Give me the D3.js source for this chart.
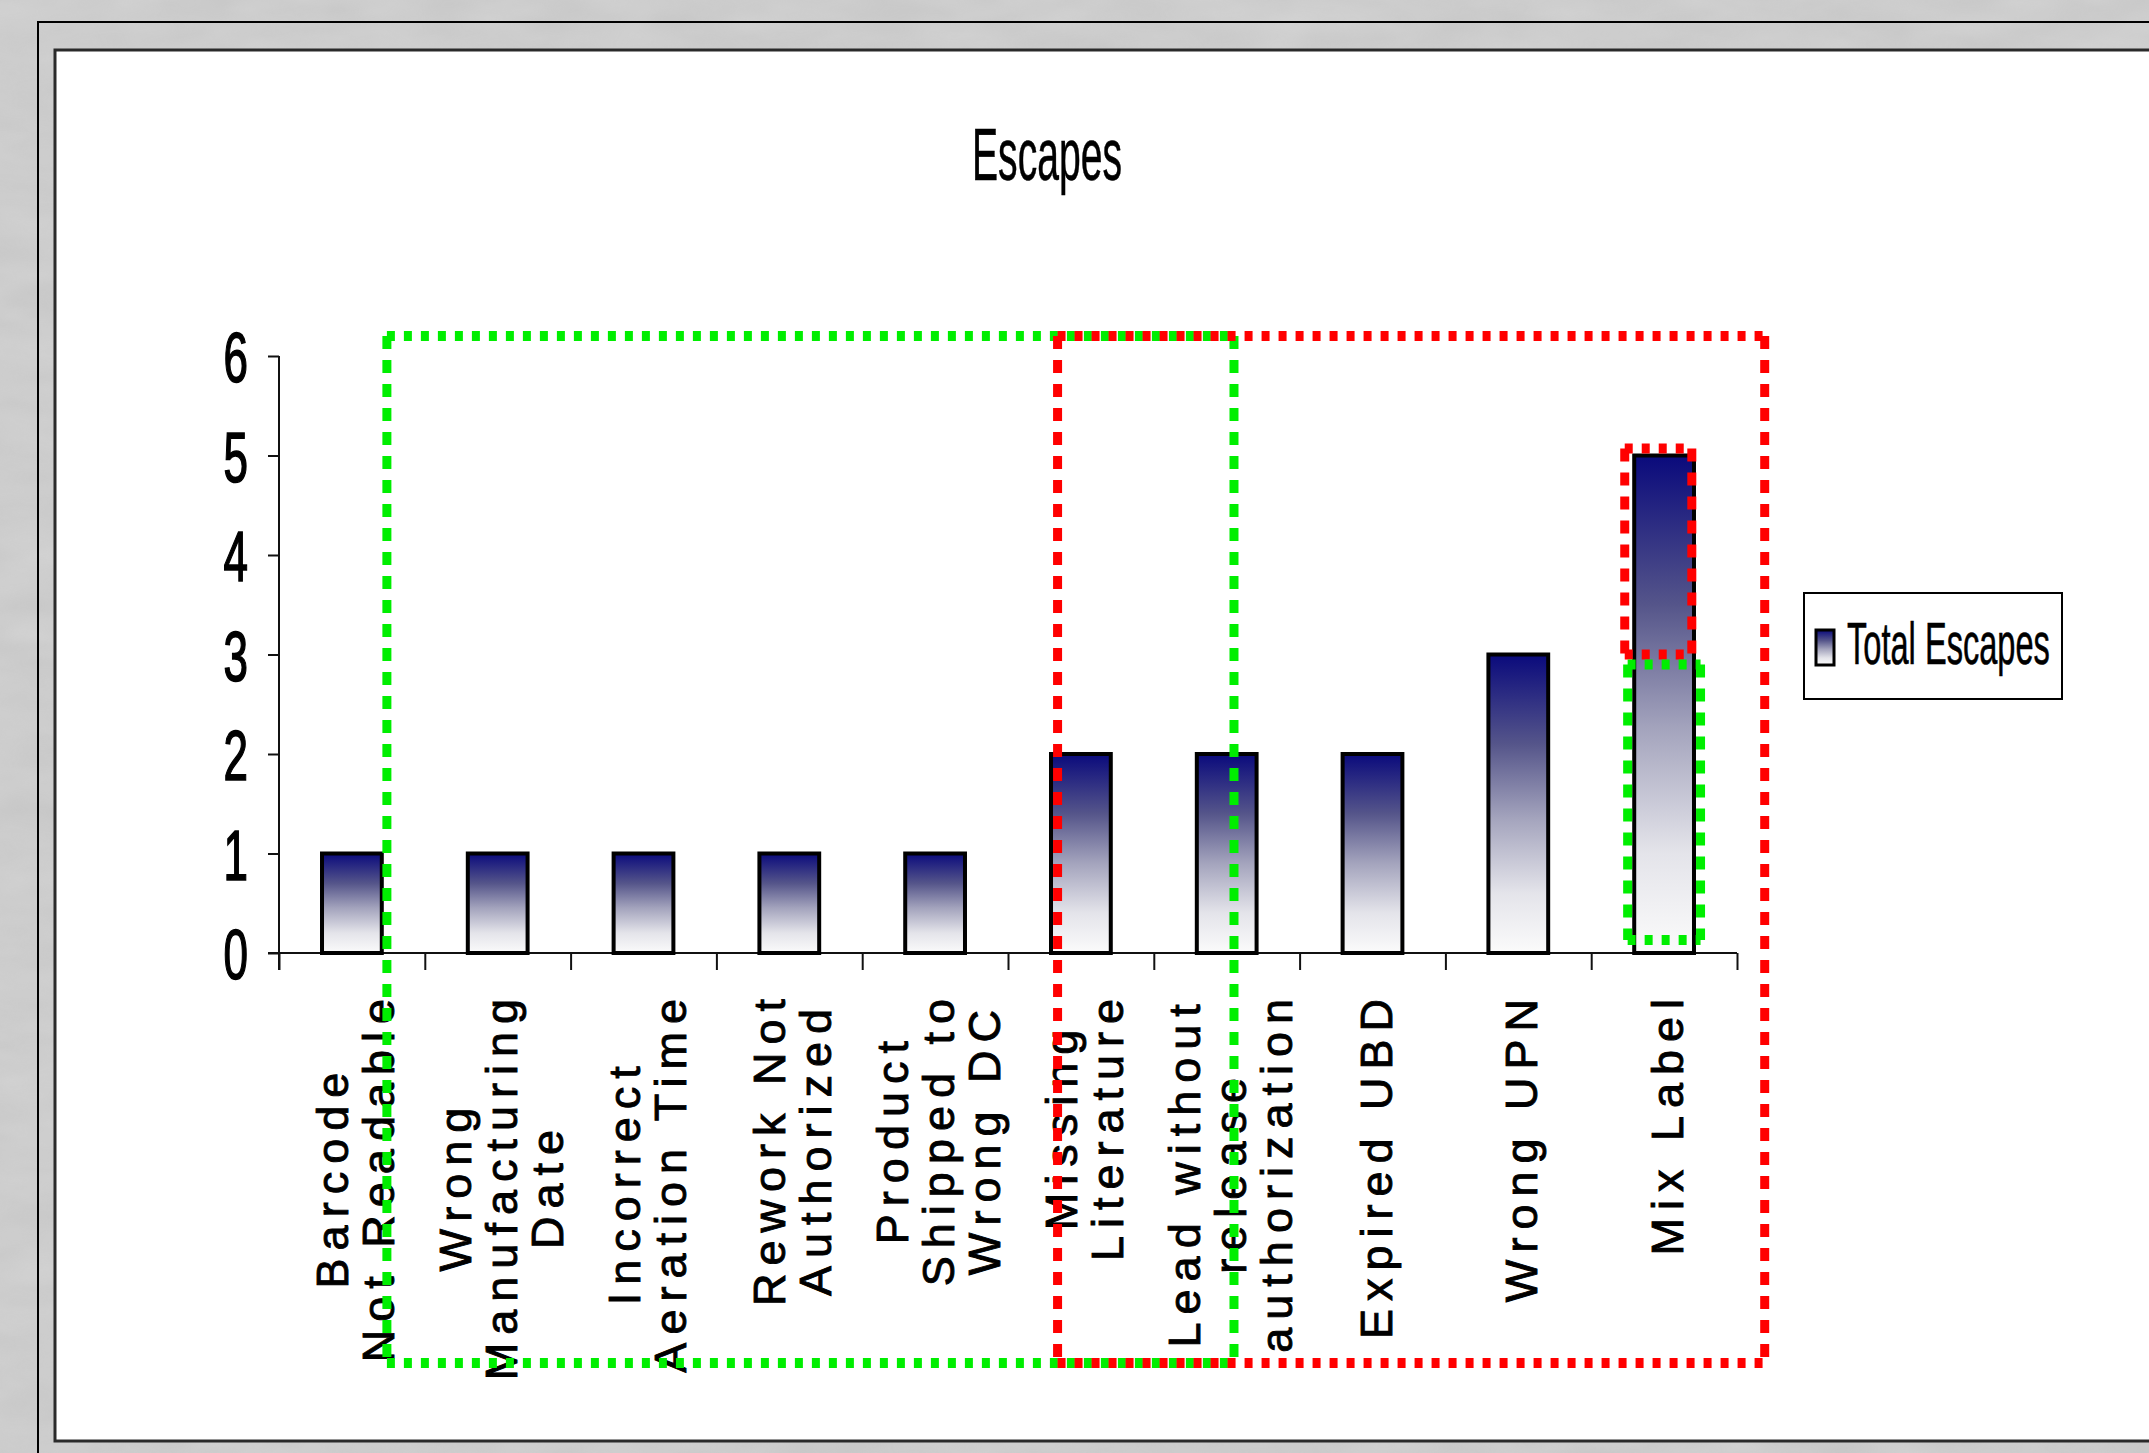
<!DOCTYPE html>
<html>
<head>
<meta charset="utf-8">
<script src="https://cdn.jsdelivr.net/npm/d3@7"></script>
<style>
  html, body { margin: 0; padding: 0; background: #c6c6c6; overflow: hidden; }
  svg { display: block; }
  text { font-family: "Liberation Sans", Arial, sans-serif; fill: #000; }
</style>
</head>
<body>
<div id="chart"></div>
<script>
// data
const categories = [
  'Barcode\nNot Readable',
  'Wrong\nManufacturing\nDate',
  'Incorrect\nAeration Time',
  'Rework Not\nAuthorized',
  'Product\nShipped to\nWrong DC',
  'Missing\nLiterature',
  'Lead without\nrelease\nauthorization',
  'Expired UBD',
  'Wrong UPN',
  'Mix  Label'
];
const totalEscapes = [1, 1, 1, 1, 1, 2, 2, 2, 3, 5];
const yTicks = [0, 1, 2, 3, 4, 5, 6];
const seriesName = 'Total Escapes';
const chartTitle = 'Escapes';

// hand drawn dotted boxes, in category-index units (x) and value units (y)
const boxColors = ['#00ee00', '#ff0000', '#ff0000', '#00ee00'];
const boxX0 = [0.74, 5.34, 9.23, 9.25];
const boxX1 = [6.55, 10.19, 9.69, 9.75];
const boxTop = [6.2, 6.2, 5.07, 2.9];
const boxBottom = [-4.12, -4.12, 3.0, 0.13];

(function(){
  const W = 2149, H = 1453;
  const svg = d3.select('#chart').append('svg').attr('width', W).attr('height', H);

  const defs = svg.append('defs');
  const grad = defs.append('linearGradient').attr('id', 'barGrad')
    .attr('x1', 0).attr('y1', 0).attr('x2', 0).attr('y2', 1);
  grad.append('stop').attr('offset', '0%').attr('stop-color', '#0a0a7c');
  grad.append('stop').attr('offset', '30%').attr('stop-color', '#55558a');
  grad.append('stop').attr('offset', '55%').attr('stop-color', '#a4a4bd');
  grad.append('stop').attr('offset', '80%').attr('stop-color', '#e4e4ea');
  grad.append('stop').attr('offset', '100%').attr('stop-color', '#fbfbfb');

  // marbled grey background
  const f = defs.append('filter').attr('id', 'marble').attr('x', 0).attr('y', 0).attr('width', 1).attr('height', 1);
  f.append('feTurbulence').attr('type', 'fractalNoise').attr('baseFrequency', '0.012 0.03').attr('numOctaves', 3).attr('seed', 4);
  f.append('feColorMatrix').attr('type', 'matrix')
    .attr('values', '0 0 0 0 0.72  0 0 0 0 0.72  0 0 0 0 0.72  0.45 0.45 0.45 0 -0.35');
  svg.append('rect').attr('width', W).attr('height', H).attr('fill', '#c8c8c8');
  svg.append('rect').attr('width', W).attr('height', H).attr('filter', 'url(#marble)').attr('opacity', 0.7);

  // frames
  svg.append('rect').attr('x', 38).attr('y', 22).attr('width', 2300).attr('height', 1600)
    .attr('fill', 'none').attr('stroke', '#000').attr('stroke-width', 2);
  svg.append('rect').attr('x', 55).attr('y', 50).attr('width', 2300).attr('height', 1391)
    .attr('fill', '#fff').attr('stroke', '#2a2a2a').attr('stroke-width', 3);

  // scales
  const left = 279, right = 1737, top = 356, bottom = 953;
  const x = d3.scaleBand().domain(categories).range([left, right]).paddingInner(0.59).paddingOuter(0.295);
  const xi = d3.scaleLinear().domain([0, categories.length]).range([left, right]);
  const y = d3.scaleLinear().domain([0, 6]).range([bottom, top]);

  // title
  svg.append('text').attr('x', 1047).attr('y', 180).attr('text-anchor', 'middle')
    .attr('font-size', 74).attr('textLength', 150).attr('lengthAdjust', 'spacingAndGlyphs')
    .attr('stroke', '#000').attr('stroke-width', 0.6)
    .text(chartTitle);

  // y axis
  const yAxis = svg.append('g').attr('transform', `translate(${left},0)`)
    .call(d3.axisLeft(y).tickValues(yTicks).tickFormat(d3.format('d')).tickSize(11).tickSizeOuter(0));
  yAxis.select('.domain').attr('stroke', '#111').attr('stroke-width', 2)
    .attr('d', `M0,${top}V${bottom + 17}`);
  yAxis.selectAll('.tick line').attr('stroke', '#111').attr('stroke-width', 2);
  yAxis.selectAll('.tick text')
    .attr('x', null).attr('dy', '0.36em')
    .attr('transform', 'translate(-31,0) scale(0.62,1)')
    .attr('font-size', 71).attr('font-family', '"Liberation Sans", Arial, sans-serif').attr('fill', '#000')
    .attr('stroke', '#000').attr('stroke-width', 1.6);

  // x axis: ticks between categories
  const xAxis = svg.append('g').attr('transform', `translate(0,${bottom})`)
    .call(d3.axisBottom(xi).tickValues(d3.range(categories.length + 1)).tickFormat('').tickSize(17).tickSizeOuter(0));
  xAxis.select('.domain').attr('stroke', '#111').attr('stroke-width', 2)
    .attr('d', `M${left - 11},0H${right}`);
  xAxis.selectAll('.tick line').attr('stroke', '#111').attr('stroke-width', 2);

  // bars
  svg.append('g').selectAll('rect').data(totalEscapes).enter().append('rect')
    .attr('x', (d, i) => x(categories[i]))
    .attr('y', d => y(d))
    .attr('width', x.bandwidth())
    .attr('height', d => y(0) - y(d))
    .attr('fill', 'url(#barGrad)')
    .attr('stroke', '#000').attr('stroke-width', 4);

  // category labels, rotated, wrapped
  const labG = svg.append('g');
  const pitch = 46, cap = 32, labelTop = 995;
  categories.forEach((c, ci) => {
    const lines = c.split('\n');
    const cx = x(c) + x.bandwidth() / 2 + 3;
    const texts = lines.map(ln => labG.append('text')
      .attr('font-size', 45).attr('letter-spacing', 8).attr('text-anchor', 'middle')
      .attr('stroke', '#000').attr('stroke-width', 0.9)
      .text(ln));
    const maxLen = d3.max(texts, t => t.node().getComputedTextLength()) - 8;
    const cy = labelTop + maxLen / 2;
    texts.forEach((t, i) => {
      const bx = cx + (i - (lines.length - 1) / 2) * pitch + cap / 2;
      t.attr('transform', `translate(${bx},${cy}) rotate(-90)`);
    });
  });

  // legend
  const lg = svg.append('g');
  lg.append('rect').attr('x', 1804).attr('y', 593).attr('width', 258).attr('height', 106)
    .attr('fill', '#fff').attr('stroke', '#000').attr('stroke-width', 2);
  lg.append('rect').attr('x', 1816).attr('y', 630).attr('width', 18).attr('height', 35)
    .attr('fill', 'url(#barGrad)').attr('stroke', '#000').attr('stroke-width', 3);
  const lt = lg.append('text').attr('font-size', 60)
    .attr('stroke', '#000').attr('stroke-width', 0.6)
    .text(seriesName);
  const natural = lt.node().getComputedTextLength();
  lt.attr('transform', `translate(1847,664) scale(${203 / natural},1)`);

  // dotted boxes drawn over the chart
  const boxes = svg.append('g');
  boxColors.forEach((col, i) => {
    const x0 = xi(boxX0[i]), x1 = xi(boxX1[i]);
    const y0 = y(boxTop[i]), y1 = y(boxBottom[i]);
    const hz = [[x0, y0, x1, y0], [x0, y1, x1, y1]];
    const vt = [[x0, y0, x0, y1], [x1, y0, x1, y1]];
    hz.forEach(s => boxes.append('line').attr('x1', s[0]).attr('y1', s[1]).attr('x2', s[2]).attr('y2', s[3])
      .attr('stroke', col).attr('stroke-width', 10).attr('stroke-dasharray', '8 9'));
    vt.forEach(s => boxes.append('line').attr('x1', s[0]).attr('y1', s[1]).attr('x2', s[2]).attr('y2', s[3])
      .attr('stroke', col).attr('stroke-width', 9).attr('stroke-dasharray', '13 11'));
  });
})();
</script>
</body>
</html>
